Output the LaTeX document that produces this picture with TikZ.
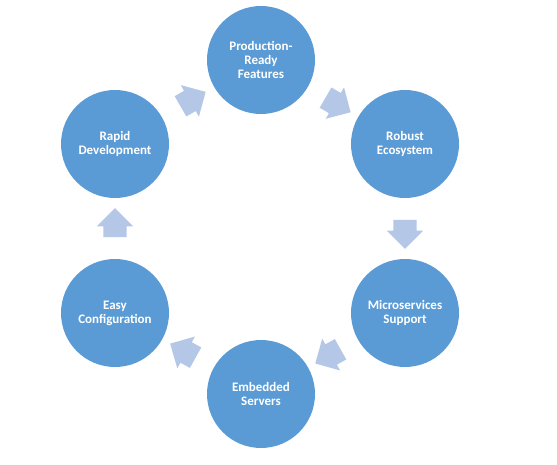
\documentclass[tikz,border=0pt]{standalone}
\usepackage{fontspec}
\setmainfont{Carlito}
\usetikzlibrary{shapes.arrows}
\definecolor{circfill}{HTML}{5B9BD5}
\definecolor{arrowfill}{HTML}{B4C7E7}
\tikzset{
  stage/.style={circle, fill=circfill, draw=none, minimum size=108pt, inner sep=0pt,
    text=white, font=\bfseries\fontsize{13}{14.2}\selectfont, align=center},
  flowarrow/.style={single arrow, fill=arrowfill, draw=none,
    single arrow head extend=6.5pt, single arrow tip angle=90,
    minimum height=29pt, inner sep=0pt, sloped, allow upside down, midway}
}
\begin{document}
\begin{tikzpicture}[x=1pt, y=-1pt]
  \path[fill=white, use as bounding box] (0,0) rectangle (557,465);
  \node[stage] (P) at (261,60)  {Production-\\Ready\\Features};
  \node[stage] (R) at (405,144) {Robust\\Ecosystem};
  \node[stage] (M) at (405,313) {Microservices\\Support};
  \node[stage] (E) at (261,394) {Embedded\\Servers};
  \node[stage] (C) at (115,313) {Easy\\Configuration};
  \node[stage] (D) at (115,144) {Rapid\\Development};
  \path (P) -- (R) node[flowarrow] (a1) {\rule{0pt}{23pt}};
  \path (R) -- (M) node[flowarrow] (a2) {\rule{0pt}{23pt}};
  \path (M) -- (E) node[flowarrow] (a3) {\rule{0pt}{23pt}};
  \path (E) -- (C) node[flowarrow] (a4) {\rule{0pt}{23pt}};
  \path (C) -- (D) node[flowarrow] (a5) {\rule{0pt}{23pt}};
  \path (D) -- (P) node[flowarrow] (a6) {\rule{0pt}{23pt}};
\end{tikzpicture}
\end{document}
